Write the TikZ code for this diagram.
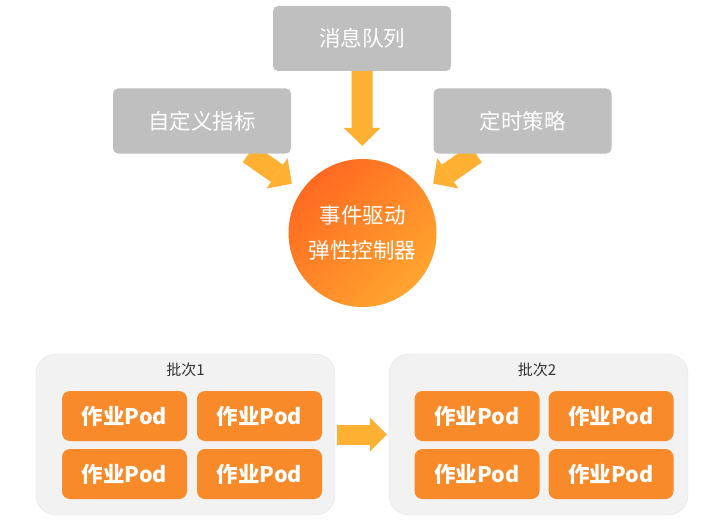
\documentclass[tikz,border=0pt]{standalone}
\usepackage{fontspec}
\setmainfont{Noto Sans CJK SC}
\usetikzlibrary{arrows.meta,backgrounds}

\definecolor{srcgray}{HTML}{BFBFBF}
\definecolor{flowor}{HTML}{FDB032}
\definecolor{ctrldark}{HTML}{FF6A20}
\definecolor{ctrllight}{HTML}{FFA530}
\definecolor{podor}{HTML}{F98A2A}
\definecolor{batchbg}{HTML}{F2F2F2}
\definecolor{batchline}{HTML}{E3E3E3}
\definecolor{lbltext}{HTML}{333333}

\begin{document}
\begin{tikzpicture}[
  x=1pt,
  y=-1pt,
  line cap=butt
]

  \useasboundingbox (0,0) rectangle (711,524);

  % styles
  \tikzset{
    source/.style={fill=srcgray, rounded corners=5pt, minimum width=178pt,
      minimum height=65pt, text=white, inner sep=0pt,
      font=\fontsize{21.5}{25}\selectfont},
    ctrl/.style={circle, minimum size=148pt, inner sep=0pt, text=white,
      align=center, font=\fontsize{21.5}{35}\selectfont,
      top color=ctrldark, bottom color=ctrllight, shading angle=45},
    batch/.style={fill=batchbg, draw=batchline, rounded corners=20pt,
      minimum width=299pt, minimum height=161pt},
    pod/.style={fill=podor, rounded corners=8pt, minimum width=125pt,
      minimum height=50pt, text=white, inner sep=0pt,
      font=\fontsize{21.5}{25}\selectfont\bfseries},
    lbl/.style={text=lbltext, font=\fontsize{15}{18}\selectfont},
    flow/.style={draw=flowor, line width=21pt,
      -{Triangle[width=37pt,length=18pt,line width=0pt]}}
  }

  % event sources
  \node[source] (mq)     at (362,38.5)  {消息队列};
  \node[source] (custom) at (202,121)   {自定义指标};
  \node[source] (timer)  at (522.5,121) {定时策略};

  % controller
  \node[ctrl] (hub) at (362.5,233) {事件驱动\\弹性控制器};

  % batches
  \node[batch] (batchA) at (185.5,434.5) {};
  \node[batch] (batchB) at (538.5,434.5) {};
  \node[lbl] (lblA) at (185.5,370) {批次1};
  \node[lbl] (lblB) at (537,370)   {批次2};

  % job pods
  \foreach \x [count=\i] in {124.5,259.5,477,611} {
    \foreach \y [count=\j] in {416,474} {
      \node[pod] (pod\i\j) at (\x,\y) {作业Pod};
    }
  }

  % arrows, kept behind the boxes
  \begin{scope}[on background layer]
    \draw[flow, shorten >=13pt] (mq) -- (hub);
    \draw[flow, shorten >=12pt] (custom) -- (hub);
    \draw[flow, shorten >=12pt] (timer) -- (hub);
    \draw[flow, line width=20pt, shorten <=2pt, shorten >=2pt,
      -{Triangle[width=34pt,length=17pt,line width=0pt]}] (batchA) -- (batchB);
  \end{scope}

\end{tikzpicture}
\end{document}
